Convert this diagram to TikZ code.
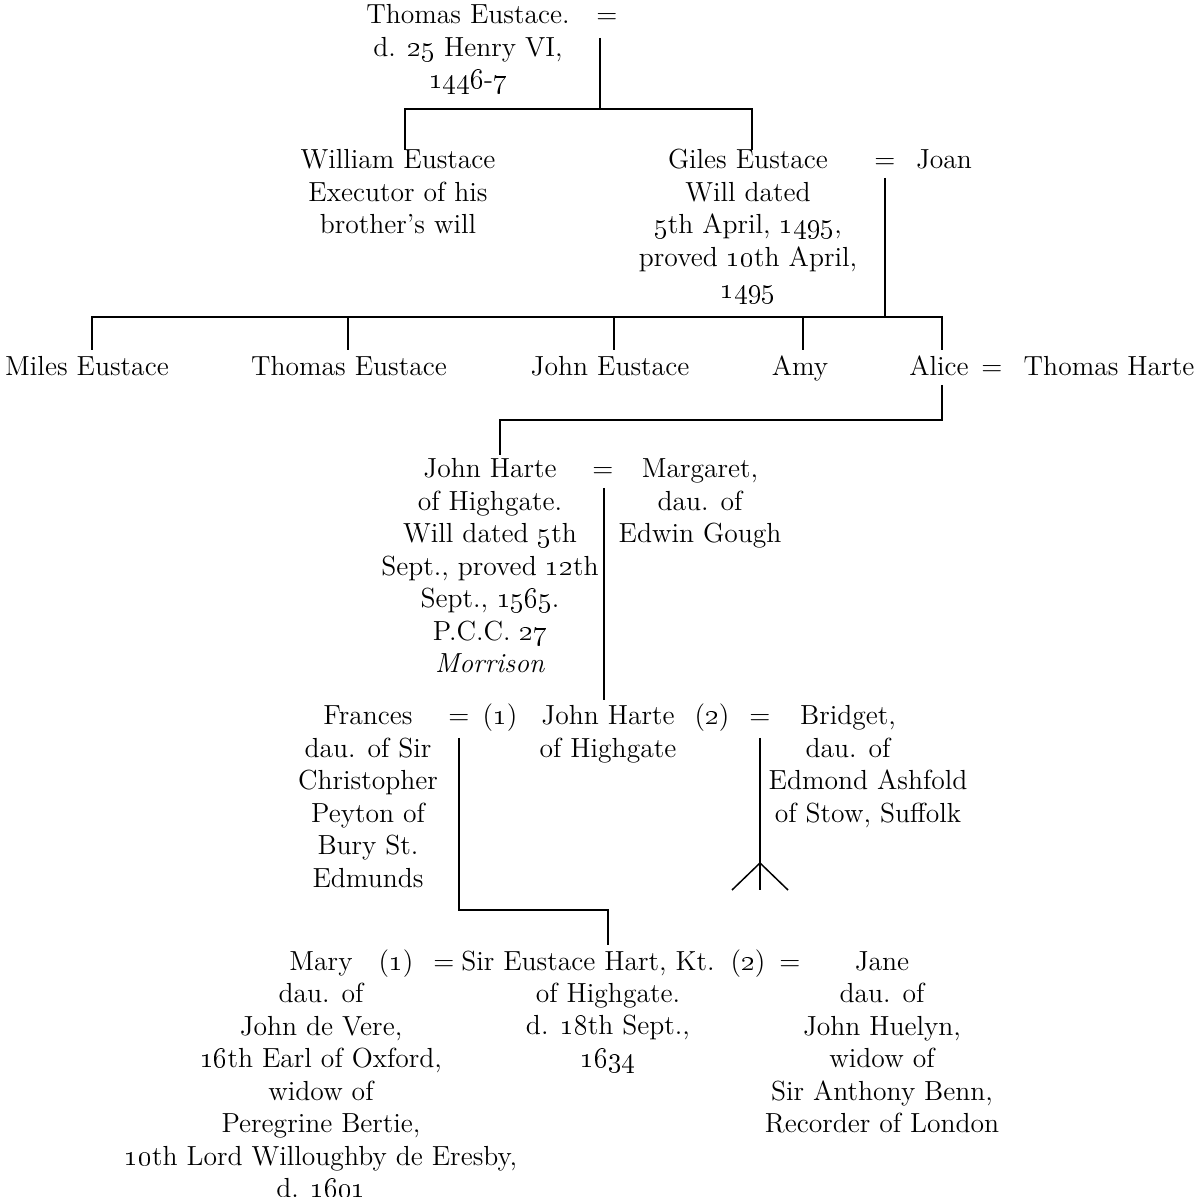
\documentclass[tikz,border=0pt]{standalone}
\newcommand\osn[1]{\oldstylenums{#1}}
\newcommand\stk[1]{\vtop{\halign{\hfil##\hfil\cr#1\crcr}}}
\begin{document}
\begin{tikzpicture}[x=0.5pt,y=-0.5pt,
  lbl/.style={inner sep=0pt, outer sep=0pt, anchor=base,
    font=\fontsize{13.8}{16.25}\selectfont},
  ln/.style={line width=0.75pt}]
\fill[white] (0,0) rectangle (1200,1197);
\useasboundingbox (0,0) rectangle (1200,1197);

% generation 1
\node[lbl] (te) at (468,24) {\stk{Thomas\ Eustace.\cr d. \osn{25} Henry VI,\cr \osn{1446}-\osn{7}}};
\node[lbl] (teq) at (607,24) {=};
\coordinate (a0) at (600,38);
\coordinate (a1) at (600,109);
\coordinate (a2) at (405,109);
\coordinate (a3) at (752,109);
\coordinate (a4) at (405,150);
\coordinate (a5) at (752,150);
\draw[ln] (a0) -- (a1);
\draw[ln] (a4) -- (a2) -- (a3) -- (a5);

% generation 2
\node[lbl] (we) at (398,169) {\stk{William Eustace\cr Executor of his\cr brother’s will}};
\node[lbl] (ge) at (748,169) {\stk{Giles Eustace\cr Will dated\cr \osn{5}th April, \osn{1495},\cr proved \osn{10}th April,\cr \osn{1495}}};
\node[lbl] (geq) at (885,169) {=};
\node[lbl] (joan) at (944,169) {Joan};
\coordinate (b0) at (885,178);
\coordinate (b1) at (885,317);
\coordinate (b2) at (92,317);
\coordinate (b3) at (942,317);
\coordinate (c1t) at (92,350);
\coordinate (c2u) at (348,317);
\coordinate (c2t) at (348,350);
\coordinate (c3u) at (614,317);
\coordinate (c3t) at (614,350);
\coordinate (c4u) at (803,317);
\coordinate (c4t) at (803,350);
\coordinate (c5t) at (942,350);
\draw[ln] (b0) -- (b1);
\draw[ln] (c1t) -- (b2) -- (b3) -- (c5t);
\draw[ln] (c2u) -- (c2t);
\draw[ln] (c3u) -- (c3t);
\draw[ln] (c4u) -- (c4t);

% generation 3
\node[lbl] (miles) at (87,376) {Miles\ Eustace};
\node[lbl] (thomas) at (349,376) {Thomas Eustace};
\node[lbl] (john) at (610,376) {John Eustace};
\node[lbl] (amy) at (800,376) {Amy};
\node[lbl] (alice) at (939,376) {Alice};
\node[lbl] (aliceq) at (992,376) {=};
\node[lbl] (tharte) at (1109,376) {Thomas Harte};
\coordinate (d0) at (942,385);
\coordinate (d1) at (942,420);
\coordinate (d2) at (500,420);
\coordinate (d3) at (500,455);
\draw[ln] (d0) -- (d1) -- (d2) -- (d3);

% generation 4
\node[lbl] (jh1) at (490,478) {\stk{John Harte\cr of Highgate.\cr Will dated \osn{5}th\cr Sept., proved \osn{12}th\cr Sept., \osn{1565}.\cr P.C.C. \osn{27}\cr \textit{Morrison}}};
\node[lbl] (jh1eq) at (603,478) {=};
\node[lbl] (marg) at (700,478) {\stk{Margaret,\cr dau. of\cr Edwin Gough}};
\coordinate (e0) at (604,488);
\coordinate (e1) at (604,700);
\draw[ln] (e0) -- (e1);

% generation 5
\node[lbl] (fran) at (368,725) {\stk{Frances\cr dau. of Sir\cr Christopher\cr Peyton of\cr Bury St.\cr Edmunds}};
\node[lbl] (franeq) at (459,725) {=};
\node[lbl] (n1) at (500,725) {(\osn{1})};
\node[lbl] (jh2) at (608,725) {\stk{John Harte\cr of Highgate}};
\node[lbl] (n2) at (712,725) {(\osn{2})};
\node[lbl] (bridgeq) at (760,725) {=};
\node[lbl] (bridget) at (848,725) {\stk{Bridget,\cr dau. of}};
\node[lbl] (bridgetb) at (868,790) {\stk{Edmond Ashfold\cr of Stow, Suffolk}};
\coordinate (f0) at (459,738);
\coordinate (f1) at (459,910);
\coordinate (f2) at (608,910);
\coordinate (f3) at (608,945);
\draw[ln] (f0) -- (f1) -- (f2) -- (f3);
\coordinate (g0) at (760,738);
\coordinate (g1) at (760,890);
\coordinate (g2) at (760,863);
\coordinate (g3) at (732,890);
\coordinate (g4) at (788,890);
\draw[ln] (g0) -- (g1);
\draw[ln] (g3) -- (g2) -- (g4);

% generation 6
\node[lbl] (mary) at (321,970) {\stk{Mary\cr dau. of\cr John de Vere,\cr \osn{16}th Earl of Oxford,\cr widow of\cr Peregrine Bertie,\cr \osn{10}th Lord Willoughby de Eresby,\cr d. \osn{1601}}};
\node[lbl] (m1) at (396,970) {(\osn{1})};
\node[lbl] (meq) at (444,970) {=};
\node[lbl] (seh) at (588,970) {Sir Eustace Hart, Kt.};
\node[lbl] (sehb) at (608,1002) {\stk{of Highgate.\cr d. \osn{18}th Sept.,\cr \osn{1634}}};
\node[lbl] (m2) at (748,970) {(\osn{2})};
\node[lbl] (jeq) at (790,970) {=};
\node[lbl] (jane) at (882,970) {\stk{Jane\cr dau. of\cr John Huelyn,\cr widow of\cr Sir Anthony Benn,\cr Recorder of London}};
\end{tikzpicture}
\end{document}
